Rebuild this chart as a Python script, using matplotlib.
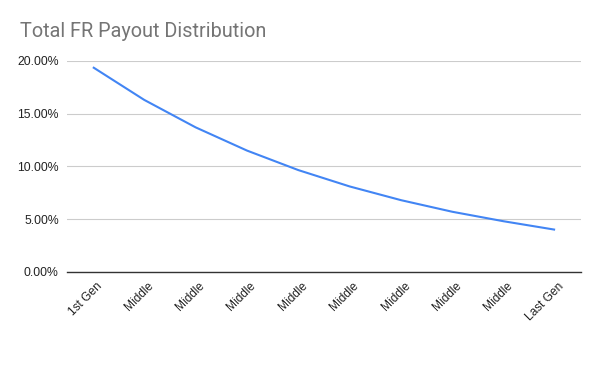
import matplotlib.pyplot as plt
import matplotlib.transforms as mtransforms
from matplotlib.ticker import PercentFormatter

# payout share per generation
generations = ["1st Gen", "Middle", "Middle", "Middle", "Middle",
               "Middle", "Middle", "Middle", "Middle", "Last Gen"]
payout = [0.194, 0.163, 0.137, 0.115, 0.0965, 0.081, 0.068, 0.057, 0.048, 0.040]
y_ticks = [0.0, 0.05, 0.10, 0.15, 0.20]

fig = plt.figure(figsize=(6, 3.71), dpi=100)
ax = fig.add_axes([0.112, 0.267, 0.856, 0.569])

x = list(range(len(generations)))
ax.plot(x, payout, color="#4285F4", linewidth=1.5, solid_capstyle="butt")

ax.set_xlim(-0.5, len(generations) - 0.5)
ax.set_ylim(0, 0.20)
ax.set_yticks(y_ticks)
ax.yaxis.set_major_formatter(PercentFormatter(1.0, decimals=2))
ax.set_xticks(x)
ax.set_xticklabels(generations, rotation=45, ha="right", rotation_mode="anchor")

ax.grid(axis="y", color="#cccccc", linewidth=0.8)
ax.set_axisbelow(True)
for side in ["top", "right", "left"]:
    ax.spines[side].set_visible(False)
ax.spines["bottom"].set_color("#333333")
ax.spines["bottom"].set_linewidth(1.0)
ax.spines["bottom"].set_zorder(3)

ax.tick_params(axis="both", length=0, labelcolor="#222222")
ax.tick_params(axis="y", pad=6, labelsize=8.8)
ax.tick_params(axis="x", pad=6, labelsize=8.6)
# rotated labels sit a touch right of their ticks in the reference
shift = mtransforms.ScaledTranslation(3 / 100, 0, fig.dpi_scale_trans)
for lbl in ax.get_xticklabels():
    lbl.set_transform(lbl.get_transform() + shift)
for lbl in ax.get_xticklabels() + ax.get_yticklabels():
    lbl.set_fontfamily("Liberation Sans")

fig.text(0.033, 0.916, "Total FR Payout Distribution", fontsize=14.3,
         color="#757575", family="Roboto", va="center", ha="left")

plt.savefig("out.png", dpi=100, facecolor="white")
